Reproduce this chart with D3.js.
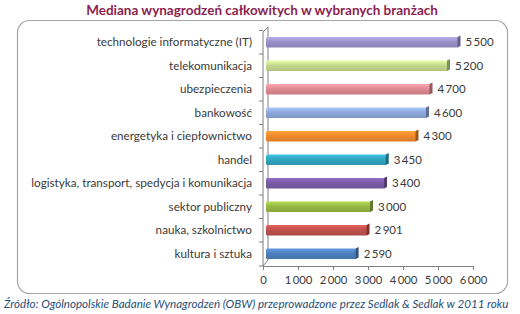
<!DOCTYPE html>
<html lang="pl">
<head>
  <meta charset="UTF-8" />
  <title>Mediana wynagrodzeń</title>
  <script src="https://d3js.org/d3.v7.min.js"></script>
  <style>
    body { margin: 0; background: #fff; font-family: Lato, "Open Sans", sans-serif; }
    svg { display: block; }
    .cat { font-size: 11.7px; fill: #3a3a3a; }
    .val { font-size: 11.5px; fill: #3a3a3a; }
    .tick text { font-size: 11.3px; fill: #3a3a3a; font-family: Lato, sans-serif; }
  </style>
</head>
<body>
  <svg width="520" height="314"></svg>
  <script>
    const categories = [
      "technologie informatyczne (IT)",
      "telekomunikacja",
      "ubezpieczenia",
      "bankowość",
      "energetyka i ciepłownictwo",
      "handel",
      "logistyka, transport, spedycja i komunikacja",
      "sektor publiczny",
      "nauka, szkolnictwo",
      "kultura i sztuka"
    ];
    const values = [5500, 5200, 4700, 4600, 4300, 3450, 3400, 3000, 2901, 2590];
    const colors = ["#9b92c9", "#c5d98f", "#e08a93", "#8ea9db", "#f0892f",
                    "#31a5bf", "#7a5ba6", "#97b943", "#c0504d", "#4f81bd"];
    const xTicks = [0, 1000, 2000, 3000, 4000, 5000, 6000];

    const fmt = v => d3.format(",")(v).replace(/,/g, "\u2009");
    const svg = d3.select("svg");

    // title
    svg.append("text")
      .attr("x", 262).attr("y", 15)
      .attr("text-anchor", "middle")
      .style("font-size", "13.5px").style("font-weight", "bold")
      .style("fill", "#8c1f4f")
      .text("Mediana wynagrodzeń całkowitych w wybranych branżach");

    // frame
    svg.append("rect")
      .attr("x", 17.5).attr("y", 20.5).attr("width", 490).attr("height", 273)
      .attr("rx", 12)
      .attr("fill", "#fff").attr("stroke", "#a6a6a6").attr("stroke-width", 1.2);

    const x = d3.scaleLinear().domain([0, 6000]).range([263, 473]);
    const y = d3.scaleBand().domain(categories).range([30, 266]).paddingInner(0.56).paddingOuter(0.3);
    const depth = 5;

    // 3D walls
    const g = svg.append("g").attr("stroke", "#7f7f7f").attr("fill", "none");
    g.append("line").attr("x1", x(0) + depth).attr("x2", x(0) + depth).attr("y1", 27).attr("y2", 260);
    g.append("line").attr("x1", x(0)).attr("x2", x(0) + depth).attr("y1", 32).attr("y2", 27);
    g.append("line").attr("x1", x(0)).attr("x2", x(0) + depth).attr("y1", 266).attr("y2", 260);
    g.append("line").attr("x1", x(0)).attr("x2", x(0)).attr("y1", 32).attr("y2", 266);

    // category ticks
    const bounds = categories.map(c => y(c) - y.step() * y.paddingInner() / 2).concat([266]);
    g.selectAll(".ct").data(bounds).enter().append("line")
      .attr("x1", x(0) - 4).attr("x2", x(0))
      .attr("y1", d => d).attr("y2", d => d);

    // bars
    const defs = svg.append("defs");
    colors.forEach((c, i) => {
      const gr = defs.append("linearGradient").attr("id", "g" + i)
        .attr("x1", 0).attr("y1", 0).attr("x2", 0).attr("y2", 1);
      gr.append("stop").attr("offset", 0).attr("stop-color", d3.color(c).brighter(0.5));
      gr.append("stop").attr("offset", 0.45).attr("stop-color", c);
      gr.append("stop").attr("offset", 1).attr("stop-color", d3.color(c).darker(0.3));
    });

    const bars = svg.append("g").selectAll("g").data(categories).enter().append("g");
    bars.append("rect")
      .attr("x", x(0) + 3)
      .attr("y", d => y(d))
      .attr("width", (d, i) => x(values[i]) - x(0))
      .attr("height", y.bandwidth())
      .attr("rx", 1.5)
      .attr("fill", (d, i) => `url(#g${i})`);
    bars.append("path")
      .attr("d", (d, i) => {
        const xe = x(values[i]) + 3, y0 = y(d), h = y.bandwidth();
        return `M${xe - 1},${y0} L${xe + 2},${y0 - 1.5} L${xe + 2},${y0 + h - 1.5} L${xe - 1},${y0 + h} Z`;
      })
      .attr("fill", (d, i) => d3.color(colors[i]).darker(1.2));

    // value labels
    bars.append("text").attr("class", "val")
      .attr("x", (d, i) => x(values[i]) + 10)
      .attr("y", d => y(d) + y.bandwidth() / 2)
      .attr("dy", "0.35em")
      .text((d, i) => fmt(values[i]));

    // category labels
    bars.append("text").attr("class", "cat")
      .attr("x", 252)
      .attr("y", d => y(d) + y.bandwidth() / 2)
      .attr("dy", "0.35em")
      .attr("text-anchor", "end")
      .text(d => d);

    // x axis
    const ax = svg.append("g").attr("transform", "translate(0,266)")
      .call(d3.axisBottom(x).tickValues(xTicks).tickSize(4).tickSizeOuter(0).tickFormat(fmt));
    ax.select(".domain").attr("stroke", "#7f7f7f");
    ax.selectAll(".tick line").attr("stroke", "#7f7f7f");
    ax.selectAll(".tick text").attr("dy", "1em");

    // source
    svg.append("text")
      .attr("x", 4).attr("y", 308)
      .style("font-size", "11.6px").style("font-style", "italic")
      .style("fill", "#1f4e79")
      .text("Źródło: Ogólnopolskie Badanie Wynagrodzeń (OBW) przeprowadzone przez Sedlak & Sedlak w 2011 roku");
  </script>
</body>
</html>
